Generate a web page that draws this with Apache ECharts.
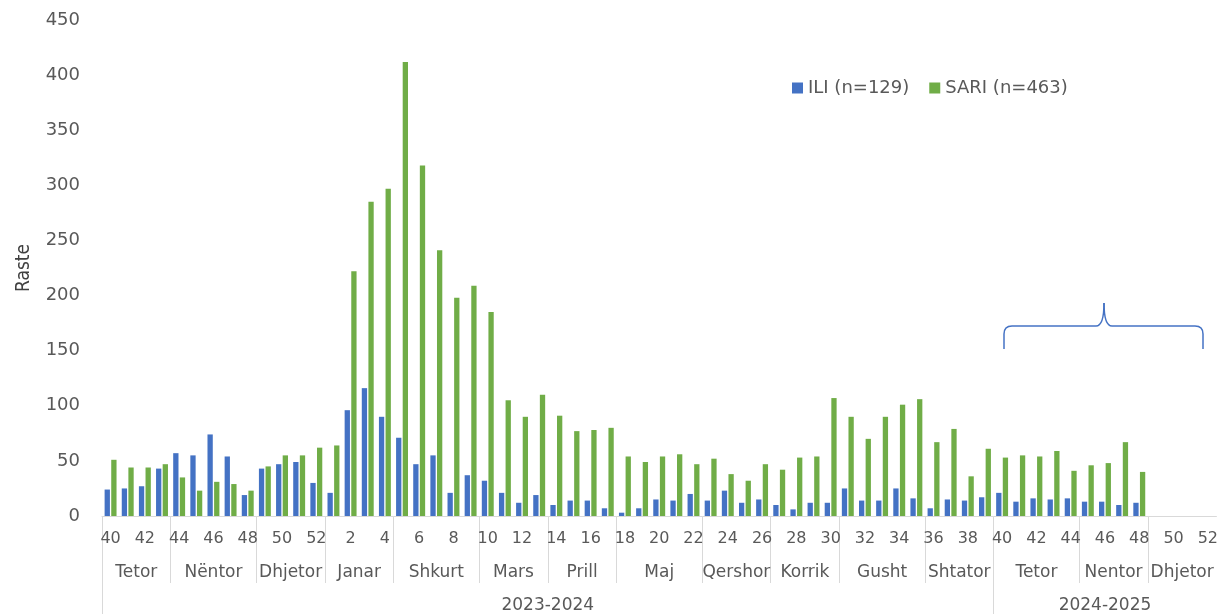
<!DOCTYPE html>
<html>
<head>
<meta charset="utf-8">
<script src="https://cdn.jsdelivr.net/npm/echarts@6/dist/echarts.min.js"></script>
<style>
  html, body { margin: 0; padding: 0; background: #fff; }
  #chart { width: 1221px; height: 614px; }
</style>
</head>
<body>
<div id="chart"></div>
<script>
// javët: 40-52 të 2023, 1-52 të 2024
var weeks = ['40', '41', '42', '43', '44', '45', '46', '47', '48', '49', '50', '51', '52',
    '1', '2', '3', '4', '5', '6', '7', '8', '9', '10', '11', '12', '13', '14', '15', '16', '17',
    '18', '19', '20', '21', '22', '23', '24', '25', '26', '27', '28', '29', '30', '31', '32',
    '33', '34', '35', '36', '37', '38', '39',
    '40', '41', '42', '43', '44', '45', '46', '47', '48', '49', '50', '51', '52'];

var iliCases = [24, 25, 27, 43, 57, 55, 74, 54, 19, 43, 47, 49, 30,
    21, 96, 116, 90, 71, 47, 55, 21, 37, 32, 21, 12, 19, 10, 14, 14, 7,
    3, 7, 15, 14, 20, 14, 23, 12, 15, 10, 6, 12, 12, 25, 14,
    14, 25, 16, 7, 15, 14, 17,
    21, 13, 16, 15, 16, 13, 13, 10, 12, null, null, null, null];

var sariCases = [51, 44, 44, 47, 35, 23, 31, 29, 23, 45, 55, 55, 62,
    64, 222, 285, 297, 412, 318, 241, 198, 209, 185, 105, 90, 110, 91, 77, 78, 80,
    54, 49, 54, 56, 47, 52, 38, 32, 47, 42, 53, 54, 107, 90, 70,
    90, 101, 106, 67, 79, 36, 61,
    53, 55, 54, 59, 41, 46, 48, 67, 40, null, null, null, null];

var monthNames = ['Tetor', 'Nëntor', 'Dhjetor', 'Janar', 'Shkurt', 'Mars', 'Prill', 'Maj',
    'Qershor', 'Korrik', 'Gusht', 'Shtator', 'Tetor', 'Nentor', 'Dhjetor'];
var monthSpans = [4, 5, 4, 4, 5, 4, 4, 5, 4, 4, 5, 4, 5, 4, 4];

var seasonNames = ['2023-2024', '2024-2025'];
var seasonSpans = [52, 13];

var textColor = '#595959';
var lineColor = '#d9d9d9';
var braceColor = '#4472C4';
var font = 'DejaVu Sans';

// grupimet vizatohen mbi një bosht me gjysmë-javë (2n+1 pika)
function buildLevel(names, spans) {
    var n = 2 * weeks.length + 1;
    var labels = [];
    for (var i = 0; i < n; i++) labels.push('');
    var ticks = {};
    var start = 0;
    names.forEach(function (name, i) {
        ticks[2 * start] = true;
        labels[2 * start + spans[i]] = name;
        start += spans[i];
    });
    var data = labels.map(function (l, i) { return 'p' + i; });
    return { labels: labels, ticks: ticks, data: data };
}

var monthLevel = buildLevel(monthNames, monthSpans);
var seasonLevel = buildLevel(seasonNames, seasonSpans);

function levelAxis(level, tickLen, margin) {
    return {
        type: 'category',
        position: 'bottom',
        data: level.data,
        boundaryGap: false,
        axisLine: { show: false },
        axisTick: {
            show: true,
            length: tickLen,
            interval: function (idx) { return !!level.ticks[idx]; },
            lineStyle: { color: lineColor, width: 1 }
        },
        axisLabel: {
            interval: function (idx) { return level.labels[idx] !== ''; },
            formatter: function (v, idx) { return level.labels[idx]; },
            margin: margin,
            color: textColor,
            fontFamily: font,
            fontSize: 17
        },
        splitLine: { show: false }
    };
}

// kllapa mbi sezonin 2024-2025
function braceLine(x1, y1, x2, y2) {
    return { type: 'line', silent: true, shape: { x1: x1, y1: y1, x2: x2, y2: y2 },
        style: { stroke: braceColor, lineWidth: 1.5 } };
}
function braceCurve(x1, y1, cx, cy, x2, y2) {
    return { type: 'bezierCurve', silent: true,
        shape: { x1: x1, y1: y1, cpx1: cx, cpy1: cy, x2: x2, y2: y2 },
        style: { stroke: braceColor, lineWidth: 1.5, fill: null } };
}

var chart = echarts.init(document.getElementById('chart'));
chart.setOption({
    animation: false,
    grid: { left: 102, right: 0, top: 20, bottom: 97 },
    legend: {
        data: ['ILI (n=129)', 'SARI (n=463)'],
        left: 792,
        top: 79,
        padding: 0,
        icon: 'rect',
        itemWidth: 11,
        itemHeight: 11,
        itemGap: 20,
        textStyle: { color: textColor, fontFamily: font, fontSize: 18 }
    },
    xAxis: [
        {
            type: 'category',
            position: 'bottom',
            data: weeks,
            axisLine: { lineStyle: { color: lineColor, width: 1 } },
            axisTick: { show: false },
            axisLabel: {
                interval: 1,
                margin: 15,
                color: textColor,
                fontFamily: font,
                fontSize: 16
            }
        },
        levelAxis(monthLevel, 67, 48),
        levelAxis(seasonLevel, 98, 81)
    ],
    yAxis: {
        type: 'value',
        min: 0,
        max: 450,
        interval: 50,
        name: 'Raste',
        nameLocation: 'middle',
        nameGap: 68,
        nameTextStyle: {
            color: '#404040',
            fontFamily: '"DejaVu Sans Condensed", "Liberation Sans Narrow", "Noto Sans", sans-serif',
            fontSize: 19
        },
        axisLine: { show: false },
        axisTick: { show: false },
        splitLine: { show: false },
        axisLabel: { margin: 22, color: textColor, fontFamily: font, fontSize: 18 }
    },
    series: [
        {
            name: 'ILI (n=129)',
            type: 'bar',
            xAxisIndex: 0,
            data: iliCases,
            barWidth: 5.3,
            barGap: '25%',
            itemStyle: { color: '#4472C4' }
        },
        {
            name: 'SARI (n=463)',
            type: 'bar',
            xAxisIndex: 0,
            data: sariCases,
            barWidth: 5.3,
            barGap: '25%',
            itemStyle: { color: '#70AD47' }
        }
    ],
    graphic: [
        braceLine(1004, 349, 1004, 334),
        braceCurve(1004, 334, 1004, 326, 1012, 326),
        braceLine(1012, 326, 1096, 326),
        braceCurve(1096, 326, 1104, 326, 1104, 303),
        braceCurve(1104, 303, 1104, 326, 1112, 326),
        braceLine(1112, 326, 1195, 326),
        braceCurve(1195, 326, 1203, 326, 1203, 334),
        braceLine(1203, 334, 1203, 349)
    ]
});
</script>
</body>
</html>
